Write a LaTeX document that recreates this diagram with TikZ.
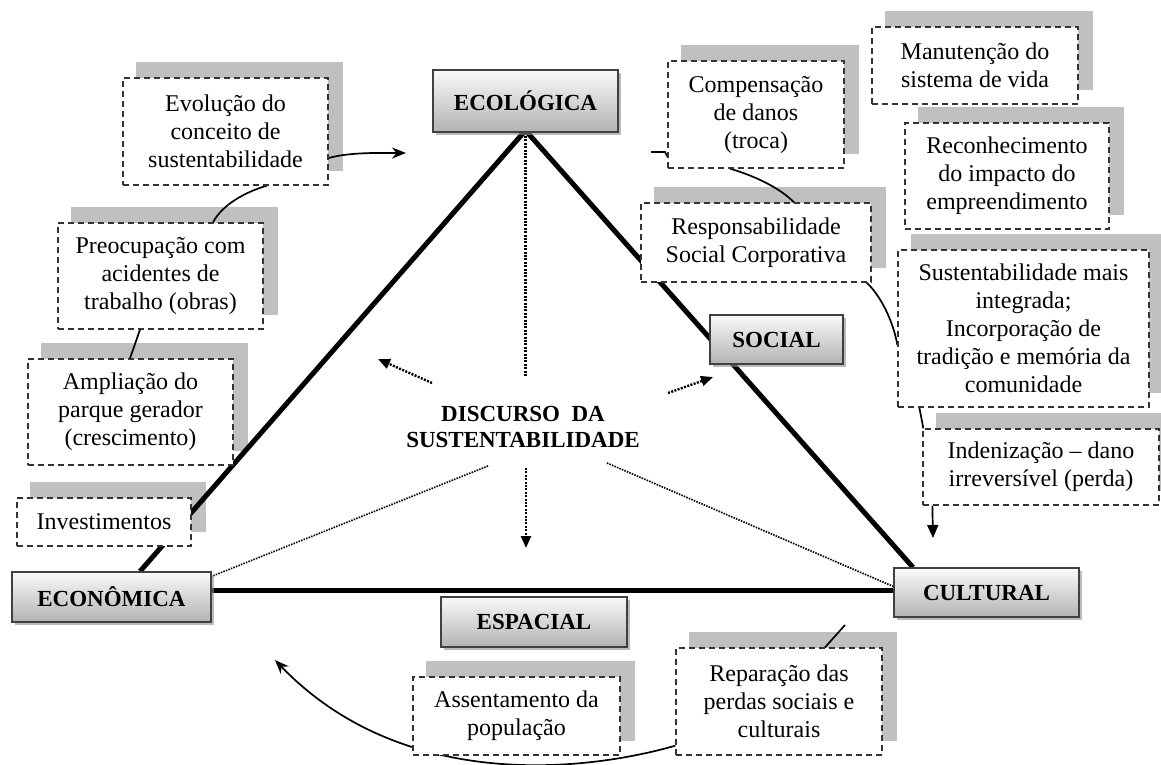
\documentclass[tikz,border=0pt]{standalone}
\usepackage{fontspec}
\setmainfont{Liberation Serif}
\usetikzlibrary{arrows.meta,shadows}
\pgfdeclarelayer{shd}
\pgfdeclarelayer{ln}
\pgfsetlayers{shd,ln,main}
\definecolor{shadowgray}{RGB}{192,192,192}
\tikzset{
  mainbox/.style={draw=black!75, line width=1.3pt, top color=black!2, bottom color=black!30,
    inner sep=0pt, font=\fontsize{23}{25}\selectfont\bfseries,
    drop shadow={shadow xshift=3pt, shadow yshift=-3pt, fill=black!45, opacity=0.6}},
  dbox/.style={draw=black!80, line width=1.3pt, dash pattern=on 6pt off 4pt, fill=white,
    inner sep=0pt, align=center, font=\fontsize{24}{28}\selectfont},
  tri/.style={line width=5pt, black},
  conn/.style={line width=1.7pt, black},
  dotline/.style={line width=2.4pt, dash pattern=on 2pt off 1.4pt},
  dotarrow/.style={dotline, -{Triangle[length=12pt,width=10pt]}},
  thindot/.style={line width=1.7pt, dash pattern=on 1.5pt off 1.2pt},
  stl/.style={-{Stealth[length=14pt,width=11pt]}},
  trl/.style={-{Triangle[length=13pt,width=11pt]}}
}
\begin{document}
\begin{tikzpicture}[x=1pt,y=-1pt]
\useasboundingbox (0,0) rectangle (1161,764);

% main boxes
\node[mainbox, minimum width=185pt, minimum height=62pt] (eco) at (525.5,101) {ECOLÓGICA};
\node[mainbox, minimum width=133pt, minimum height=49pt] (soc) at (776.5,339.5) {SOCIAL};
\node[mainbox, minimum width=199pt, minimum height=50pt] (econ) at (111.5,597) {ECONÔMICA};
\node[mainbox, minimum width=185pt, minimum height=49pt] (cult) at (986.5,592.5) {CULTURAL};
\node[mainbox, minimum width=186pt, minimum height=50pt] (esp) at (534,622) {ESPACIAL};

% dashed boxes
\node[dbox, minimum width=205pt, minimum height=107pt] (evo) at (225.5,131.5) {Evolução do\\conceito de\\sustentabilidade};
\node[dbox, minimum width=205pt, minimum height=106pt] (preo) at (160.5,276) {Preocupação com\\acidentes de\\trabalho (obras)};
\node[dbox, minimum width=205pt, minimum height=106pt] (ampl) at (130.5,412) {Ampliação do\\parque gerador\\(crescimento)};
\node[dbox, minimum width=174pt, minimum height=48pt] (inv) at (104,522) {Investimentos};
\node[dbox, minimum width=176pt, minimum height=107pt] (comp) at (756,114.5) {Compensação\\de danos\\(troca)};
\node[dbox, minimum width=206pt, minimum height=77pt] (manu) at (975,65.5) {Manutenção do\\sistema de vida};
\node[dbox, minimum width=204pt, minimum height=106pt] (reco) at (1007,176) {Reconhecimento\\do impacto do\\empreendimento};
\node[dbox, minimum width=230pt, minimum height=79pt] (resp) at (756,242.5) {Responsabilidade\\Social Corporativa};
\node[dbox, minimum width=251pt, minimum height=157pt] (sust) at (1023.5,328.5) {Sustentabilidade mais\\integrada;\\Incorporação de\\tradição e memória da\\comunidade};
\node[dbox, minimum width=236pt, minimum height=76pt] (inde) at (1041,467) {Indenização – dano\\irreversível (perda)};
\node[dbox, minimum width=207pt, minimum height=78pt] (asse) at (516.5,716) {Assentamento da\\população};
\node[dbox, minimum width=206pt, minimum height=107pt] (repa) at (779,701.5) {Reparação das\\perdas sociais e\\culturais};

% central text
\node[font=\fontsize{23}{26}\selectfont\bfseries, align=center, inner sep=0pt] (disc) at (523,427) {DISCURSO\ \ DA\\SUSTENTABILIDADE};

% shadows of dashed boxes
\begin{pgfonlayer}{shd}
\foreach \n in {evo,preo,ampl,inv,comp,manu,reco,resp,sust,inde,asse,repa}
  \fill[shadowgray] ([xshift=14pt,yshift=15pt]\n.south west) rectangle ([xshift=14pt,yshift=15pt]\n.north east);
\end{pgfonlayer}

\begin{pgfonlayer}{ln}
% triangle
\draw[tri] ([xshift=-2pt]eco.south) -- ([xshift=28.5pt]econ.north);
\draw[tri] ([xshift=2pt]eco.south) -- ([xshift=-73.5pt]cult.north);
\draw[tri] ([yshift=7pt]econ.east) -- ([yshift=2.5pt]cult.west);

% dotted lines
\coordinate (dtop) at (525.5,377);
\coordinate (dbot0) at (526,468);
\coordinate (dbot) at (526,548);
\coordinate (ul0) at (432,383);
\coordinate (ul) at (378,359);
\coordinate (ur0) at (668,393);
\coordinate (ur) at (713,377);
\coordinate (ll0) at (488,466);
\coordinate (lr0) at (607,463);
\draw[dotline] (eco.south) -- (dtop);
\draw[dotarrow] (dbot0) -- (dbot);
\draw[dotarrow] (ul0) -- (ul);
\draw[dotarrow] (ur0) -- (ur);
\draw[thindot] (ll0) -- ([yshift=-5pt]econ.north east);
\draw[thindot] (lr0) -- ([yshift=6pt]cult.west);

% connectors
\coordinate (evoarr) at (406,153);
\draw[conn, stl] ([yshift=-26.5pt]evo.east) .. controls (350,152) and (380,153) .. (evoarr);
\draw[conn] ([xshift=41.5pt]evo.south) .. controls (245,192) and (222,205) .. ([xshift=52.5pt]preo.north);
\draw[conn] ([xshift=-20.5pt]preo.south) -- ([xshift=-0.5pt]ampl.north);
\coordinate (cstub) at (651,152);
\draw[conn] (cstub) -- (665,152) -- ([yshift=-42pt]comp.west);
\draw[conn] ([xshift=-26pt]comp.south) .. controls (755,176) and (780,188) .. ([xshift=38pt]resp.north);
\draw[conn] ([xshift=-5pt]resp.south east) .. controls (880,295) and (893,320) .. ([yshift=-16.5pt]sust.west);
\draw[conn] ([xshift=22pt]sust.south west) -- ([xshift=1pt]inde.north west);
\coordinate (indarr) at (933,538);
\draw[conn, trl] ([xshift=10pt]inde.south west) -- (indarr);
\coordinate (repend) at (845,625);
\draw[conn] ([xshift=46pt]repa.north) -- (repend);
\coordinate (bigarr) at (275,660);
\draw[conn, stl] ([yshift=10pt]repa.south west) .. controls (580,773) and (400,790) .. (bigarr);
\end{pgfonlayer}
\end{tikzpicture}
\end{document}
